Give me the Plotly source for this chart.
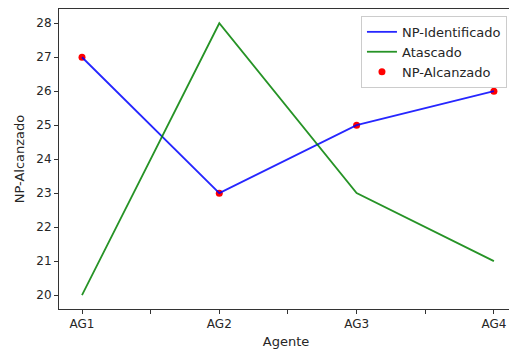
import plotly.graph_objects as go

agentes = ["AG1", "AG2", "AG3", "AG4"]
np_identificado = [27, 23, 25, 26]
atascado = [20, 28, 23, 21]
np_alcanzado = [27, 23, 25, 26]

xpos = list(range(len(agentes)))
tickvals = [i * 0.5 for i in range(2 * len(agentes) - 1)]
ticktext = [agentes[int(v)] if v == int(v) else "" for v in tickvals]

tickfont = dict(family="DejaVu Sans", size=12, color="#262626")
labfont = dict(family="DejaVu Sans", size=13, color="#262626")

fig = go.Figure()
fig.add_trace(go.Scatter(x=xpos, y=np_alcanzado, mode="markers", name="NP-Alcanzado",
                         marker=dict(color="red", size=7), legendrank=3))
fig.add_trace(go.Scatter(x=xpos, y=np_identificado, mode="lines", name="NP-Identificado",
                         line=dict(color="rgba(0,0,255,0.85)", width=1.8), legendrank=1))
fig.add_trace(go.Scatter(x=xpos, y=atascado, mode="lines", name="Atascado",
                         line=dict(color="rgba(0,128,0,0.85)", width=1.8), legendrank=2))

fig.update_layout(
    width=513, height=349,
    margin=dict(l=59, r=0, t=9, b=40, autoexpand=False),
    plot_bgcolor="white", paper_bgcolor="white",
    font=tickfont,
    showlegend=True,
    legend=dict(x=0.9867, y=0.977, xanchor="right", yanchor="top",
                bgcolor="rgba(255,255,255,0.8)", bordercolor="#cccccc", borderwidth=1,
                font=labfont, itemwidth=30, traceorder="normal"),
    xaxis=dict(range=[-0.1675, 3.139], tickvals=tickvals, ticktext=ticktext,
               automargin=False, tickfont=tickfont,
               showgrid=False, zeroline=False, showline=True, linecolor="#333333", linewidth=1,
               mirror=True, ticks="outside", ticklen=4, tickcolor="#333333",
               title=dict(text="Agente", standoff=9, font=labfont)),
    yaxis=dict(range=[19.59, 28.42], tickvals=list(range(20, 29)),
               automargin=False, tickfont=tickfont,
               showgrid=False, zeroline=False, showline=True, linecolor="#333333", linewidth=1,
               ticks="outside", ticklen=4, tickcolor="#333333",
               title=dict(text="NP-Alcanzado", standoff=8, font=labfont)),
)

fig.write_html("out.html", config={"displayModeBar": False},
               post_script="document.body.style.margin='0';document.body.style.overflow='hidden';")
